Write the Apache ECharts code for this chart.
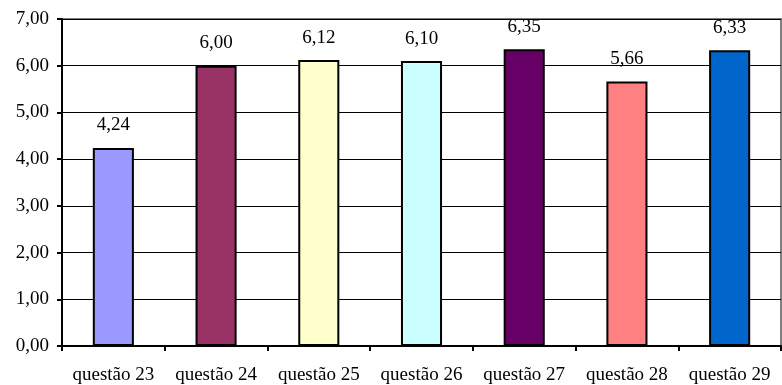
<!DOCTYPE html>
<html>
<head>
<meta charset="utf-8">
<script src="https://cdn.jsdelivr.net/npm/echarts@6/dist/echarts.min.js"></script>
<style>
  html, body { margin: 0; padding: 0; background: #fff; }
  #chart { width: 782px; height: 385px; }
</style>
</head>
<body>
<div id="chart"></div>
<script>
// Mean score per question
const categories = ['questão 23', 'questão 24', 'questão 25', 'questão 26', 'questão 27', 'questão 28', 'questão 29'];
const values = [4.24, 6.00, 6.12, 6.10, 6.35, 5.66, 6.33];
const barColors = ['#9999FF', '#993366', '#FFFFCC', '#CCFFFF', '#660066', '#FF8080', '#0066CC'];

const fmt = v => v.toFixed(2).replace('.', ',');
const font = '"Liberation Serif", "Times New Roman", serif';

const chart = echarts.init(document.getElementById('chart'), null, { renderer: 'canvas' });
chart.setOption({
  animation: false,
  grid: {
    left: 62, right: 1, top: 19, bottom: 39,
    outerBoundsMode: 'none',
    containLabel: false,
    show: true, borderColor: '#808080', borderWidth: 2, backgroundColor: '#fff'
  },
  xAxis: {
    type: 'category',
    data: categories,
    axisLine: { lineStyle: { color: '#000', width: 2 } },
    axisTick: { show: true, alignWithLabel: false, length: 5, lineStyle: { color: '#000', width: 2 } },
    axisLabel: { color: '#000', fontFamily: font, fontSize: 19, margin: 20, interval: 0 },
    splitLine: { show: false }
  },
  yAxis: {
    type: 'value',
    min: 0, max: 7, interval: 1,
    axisLine: { show: true, lineStyle: { color: '#000', width: 2 } },
    axisTick: { show: true, length: 5, lineStyle: { color: '#000', width: 2 } },
    axisLabel: { color: '#000', fontFamily: font, fontSize: 19, margin: 13, formatter: v => fmt(v) },
    splitLine: { show: true, lineStyle: { color: '#000', width: 1 } }
  },
  series: [{
    type: 'bar',
    data: values.map((v, i) => ({ value: v, itemStyle: { color: barColors[i] } })),
    barWidth: '40%',
    itemStyle: { borderColor: '#000', borderWidth: 2 },
    label: {
      show: true, position: 'top', distance: 13,
      color: '#000', fontFamily: font, fontSize: 19,
      formatter: p => fmt(p.value)
    }
  }]
});
</script>
</body>
</html>
